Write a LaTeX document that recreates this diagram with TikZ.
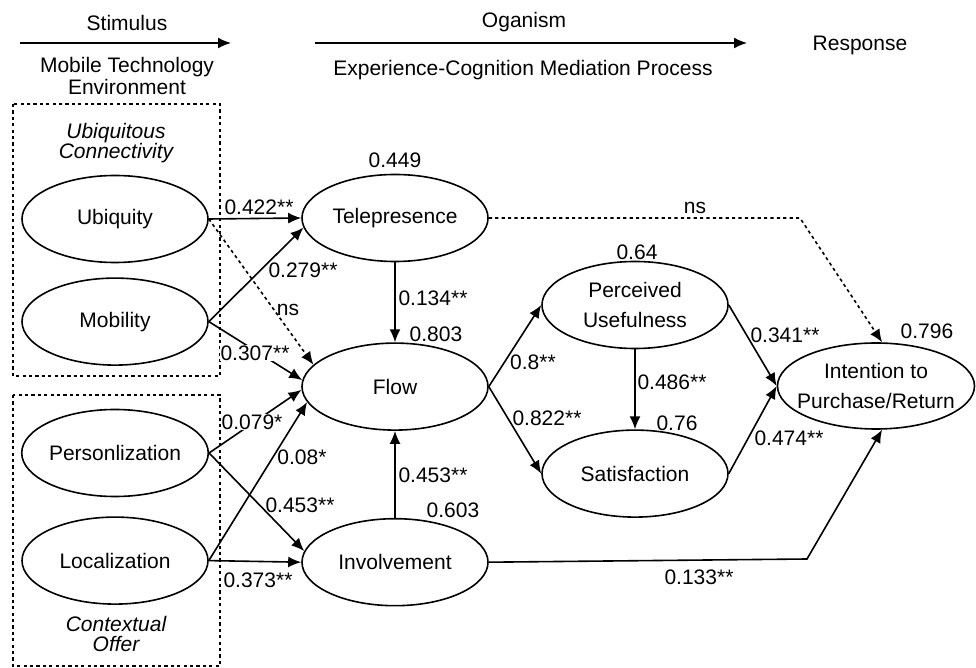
\documentclass[tikz,border=0pt]{standalone}
\usepackage{fontspec}
\setmainfont{Liberation Sans}
\usetikzlibrary{shapes.geometric,arrows.meta,positioning}

\begin{document}
\begin{tikzpicture}[
x=0.5pt, y=-0.5pt,
font=\fontsize{10.5}{15}\selectfont,
latentnode/.style={ellipse, draw=black, line width=0.8pt, minimum width=93pt, minimum height=43.5pt, inner sep=0pt, align=center},
pathline/.style={-{Latex[length=6.5pt,width=5.5pt]}, line width=0.8pt},
nsline/.style={pathline, dash pattern=on 1.6pt off 1.6pt},
groupbox/.style={draw, line width=0.8pt, dash pattern=on 1.6pt off 1.6pt},
grouplabel/.style={font=\fontsize{10.5}{10}\selectfont\itshape, align=center},
coef/.style={inner sep=0.5pt},
coefw/.style={coef, fill=white},
]
\useasboundingbox (0,0) rectangle (976,668);
%Header
\node (stim) at (127,23) {Stimulus};
\node[align=center, font=\fontsize{10.5}{11}\selectfont] (mte) at (127,76) {Mobile Technology\\Environment};
\node (orga) at (524,22) {Oganism};
\node (ecmp) at (523,70) {Experience-Cognition Mediation Process};
\node (resp) at (860,45) {Response};
\coordinate (stimA) at (20,43);
\coordinate (stimB) at (231,43);
\coordinate (orgaA) at (315,43);
\coordinate (orgaB) at (747,43);
\draw[pathline] (stimA) -- (stimB);
\draw[pathline] (orgaA) -- (orgaB);
%Groups
\draw[groupbox] (13,104) rectangle (220,376);
\draw[groupbox] (13,395) rectangle (220,666);
\node[grouplabel] (ucon) at (116,143) {Ubiquitous\\Connectivity};
\node[grouplabel] (coff) at (116,634) {Contextual\\Offer};
%Nodes
\node[latentnode] (Ubi)  at (115,219) {Ubiquity};
\node[latentnode] (Mob)  [below=7pt of Ubi] {Mobility};
\node[latentnode] (Pers) at (115,453) {Personlization};
\node[latentnode] (Loc)  [below=9.5pt of Pers] {Localization};
\node[latentnode] (Tele) at (395,218) {Telepresence};
\node[latentnode] (Flow) [below=40pt of Tele] {Flow};
\node[latentnode] (Inv)  [below=43.5pt of Flow] {Involvement};
\node[latentnode] (PU)   at (635,305) {Perceived\\Usefulness};
\node[latentnode] (Sat)  [below=40pt of PU] {Satisfaction};
\node[latentnode, minimum width=98.5pt, minimum height=43pt, inner xsep=-5pt] (Int) at (876,386) {Intention to\\Purchase/Return};
\coordinate (TeleBend) at (800,218);
\coordinate (InvBend)  at (807,559);
%R squared
\node (r2Tele) at (395,160) {0.449};
\node (r2Flow) at (436,334) {0.803};
\node (r2Inv)  at (453,510) {0.603};
\node (r2PU)   at (637,252) {0.64};
\node (r2Sat)  at (677,423) {0.76};
\node (r2Int)  at (927,331) {0.796};
%Lines
\draw[pathline] (Ubi.east) -- (Tele.west);
\draw[nsline]   (Ubi.east) -- (Flow.165);
\draw[pathline] (Mob.east) -- (Tele.186);
\draw[pathline] (Mob.east) -- (Flow.176);
\draw[pathline] (Pers.east) -- (Flow.182);
\draw[pathline] (Pers.east) -- (Inv.173);
\draw[pathline] (Loc.east) -- (Flow.190);
\draw[pathline] (Loc.east) -- (Inv.west);
\draw[pathline] (Tele.south) -- (Flow.north);
\draw[pathline] (Inv.north) -- (Flow.south);
\draw[pathline] (Flow.east) -- (PU.west);
\draw[pathline] (Flow.east) -- (Sat.west);
\draw[pathline] (PU.south) -- (Sat.north);
\draw[pathline] (PU.east) -- (Int.west);
\draw[pathline] (Sat.east) -- (Int.west);
\draw[nsline]   (Tele.east) -- (TeleBend) -- (Int.82);
\draw[pathline] (Inv.east) -- (InvBend) -- (Int.-82);
%Coefficients
\node[coef]  (cUbiTele)  at (259,207) {0.422**};
\node[coef]  (cMobTele)  at (303,270) {0.279**};
\node[coef]  (cUbiFlow)  at (288,310) {ns};
\node[coefw] (cMobFlow)  at (255,353) {0.307**};
\node[coefw] (cPersFlow) at (252,422) {0.079*};
\node[coef]  (cLocFlow)  at (302,457) {0.08*};
\node[coef]  (cPersInv)  at (300,505) {0.453**};
\node[coef]  (cLocInv)   at (258,580) {0.373**};
\node[coef]  (cTeleFlow) at (433,298) {0.134**};
\node[coef]  (cInvFlow)  at (433,475) {0.453**};
\node[coef]  (cFlowPU)   at (533,362) {0.8**};
\node[coef]  (cFlowSat)  at (547,418) {0.822**};
\node[coef]  (cPUSat)    at (672,382) {0.486**};
\node[coef]  (cPUInt)    at (785,335) {0.341**};
\node[coef]  (cSatInt)   at (789,438) {0.474**};
\node[coef]  (cTeleInt)  at (695,208) {ns};
\node[coef]  (cInvInt)   at (699,577) {0.133**};
\end{tikzpicture}
\end{document}
